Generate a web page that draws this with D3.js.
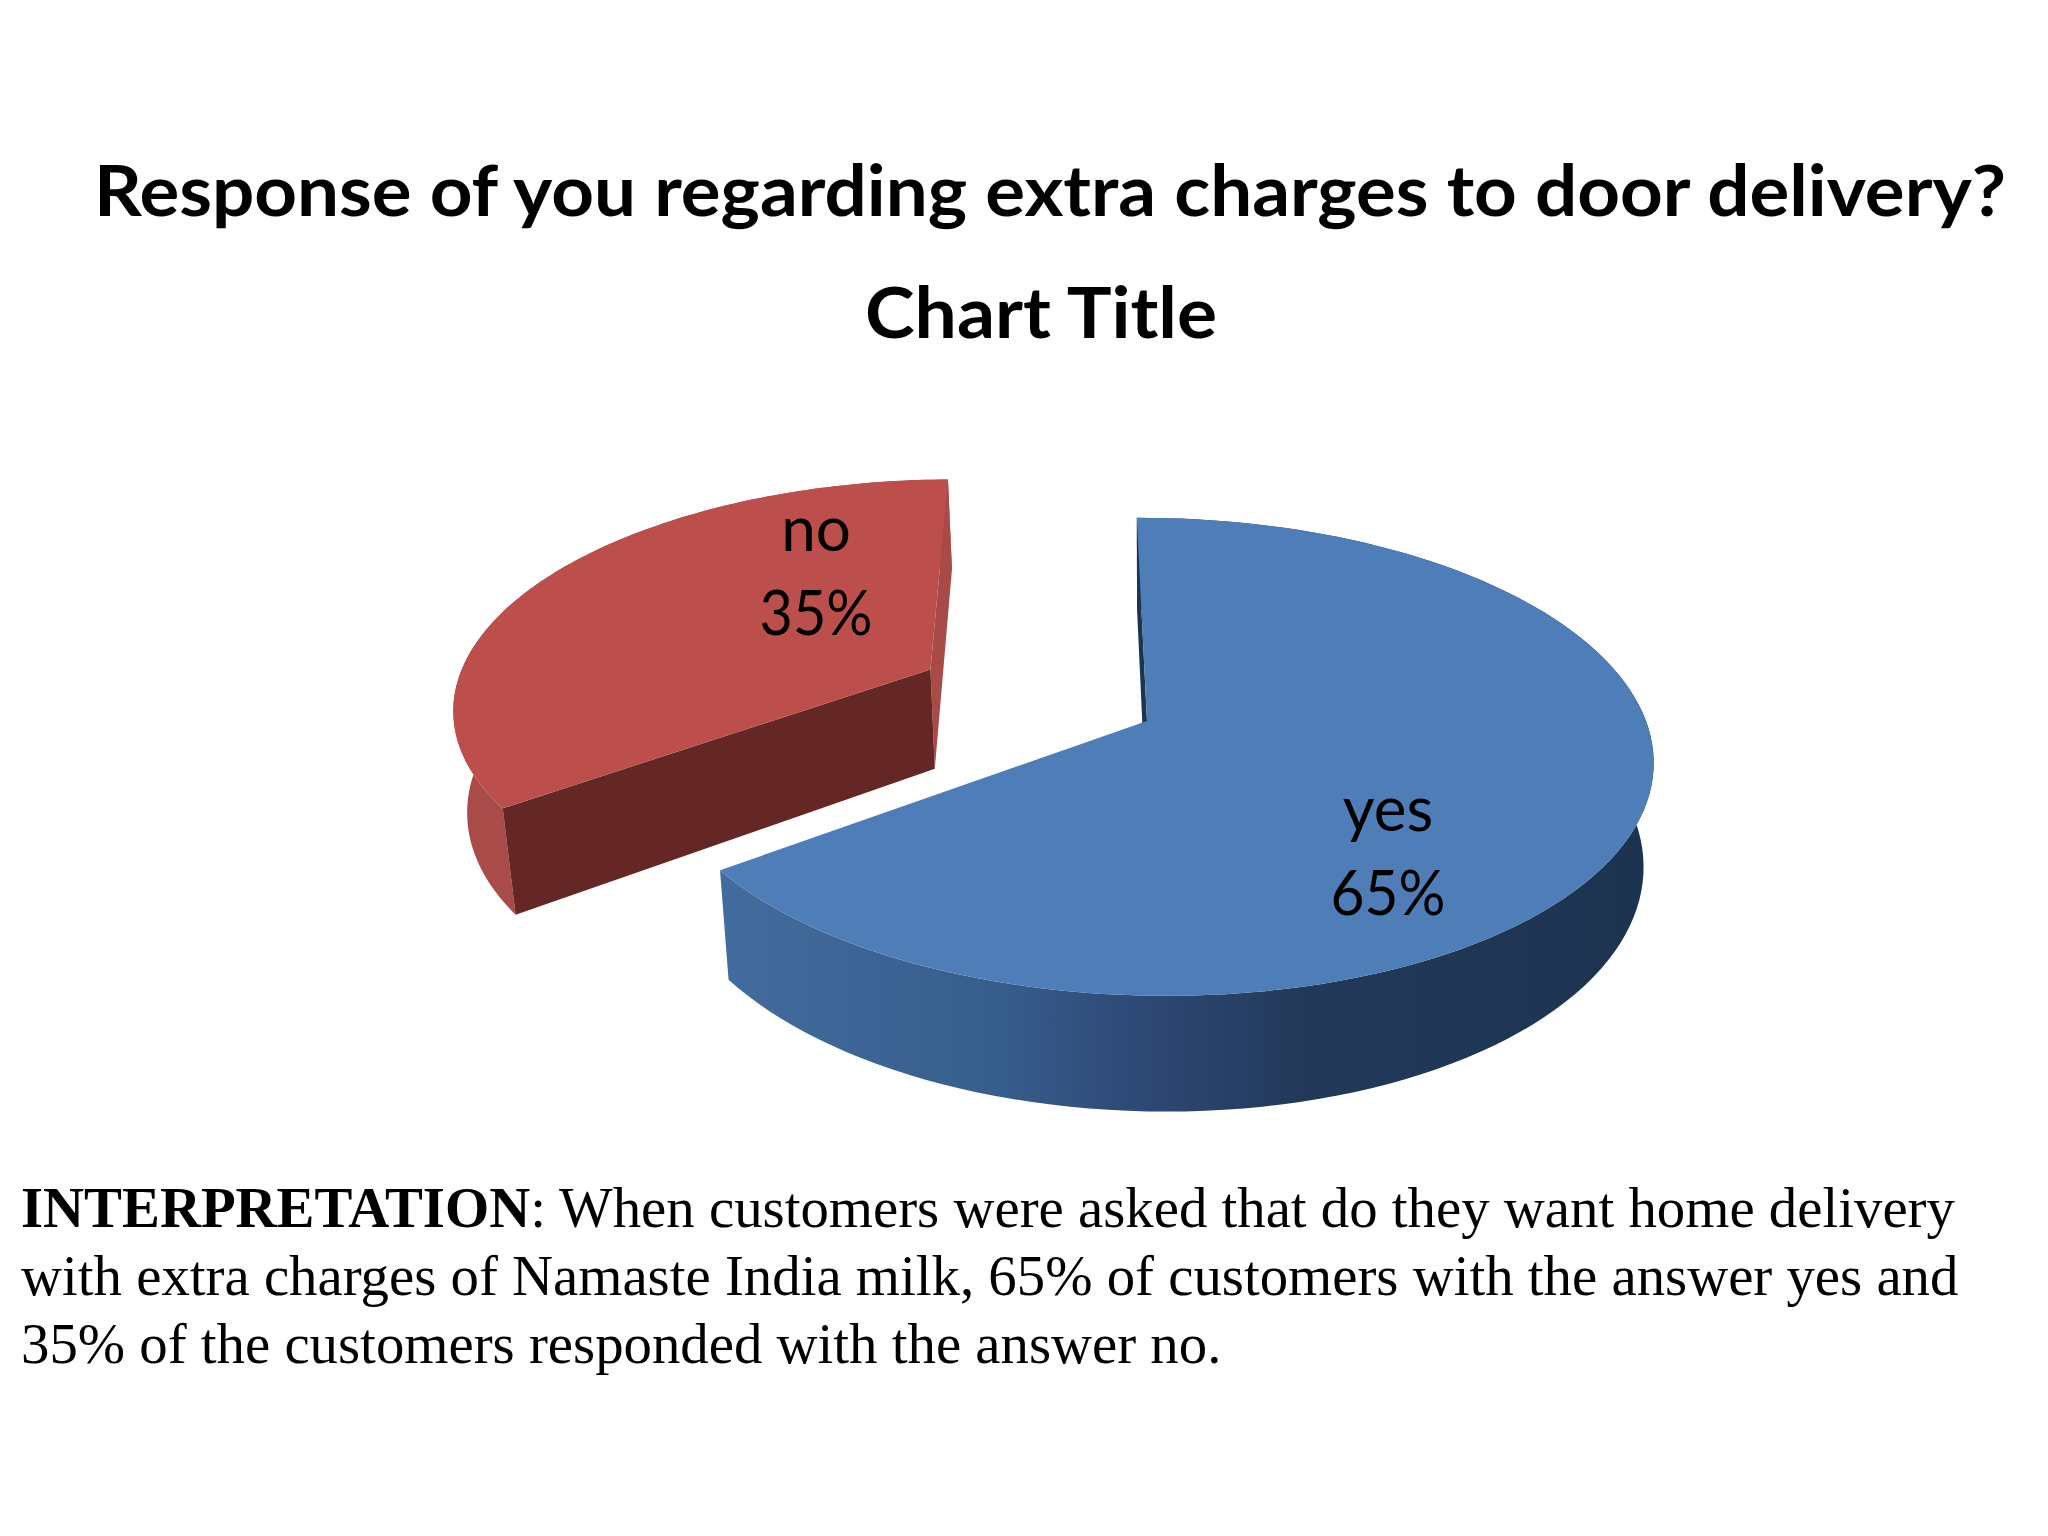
<!DOCTYPE html>
<html>
<head>
<meta charset="utf-8">
<script src="https://cdnjs.cloudflare.com/ajax/libs/d3/7.8.5/d3.min.js"></script>
<style>
  html, body { margin: 0; padding: 0; background: #ffffff; }
  svg { display: block; }
</style>
</head>
<body>
<svg id="chart"></svg>
<script>
// chart values
var categories = ["yes", "no"];
var percents = [65, 35];
var titleLines = ["Response of you regarding extra charges to door delivery?", "Chart Title"];
var bodyLead = "INTERPRETATION";
var bodyLines = [
  ": When customers were asked that do they want home delivery",
  "with extra charges of Namaste India milk, 65% of customers with the answer yes and",
  "35% of the customers responded with the answer no."
];

var width = 2048,
    height = 1536;

// the 3d look: flat disc seen in perspective, then pushed down for the wall
var cx = 1147, cy = 721,
    rx = 494, ry = 233.6,
    persp = 0.15, perspX = 0.01, shear = 0.05,
    depth = 102;

var explode = [0, 0.505];
var topColor = ["#4f7db8", "#bc4f4c"];
var faceColor = ["#1d3550", "#652726"];
var endColor = "#a84a48";
var labelPos = [[1388, 831], [816, 551]];
var labelWidth = [115, 113];

var svg = d3.select("#chart")
    .attr("width", width)
    .attr("height", height);

var defs = svg.append("defs");

// wall shading runs left to right on screen
var wallFill = [
  [[717, "#436c9e"], [1000, "#375d8c"], [1120, "#2f4b78"], [1300, "#22395a"], [1660, "#1c3350"]],
  [[440, "#a84b49"], [520, "#a84b49"]]
];
wallFill.forEach(function(stops, i){
    var x = d3.scaleLinear().domain([stops[0][0], stops[stops.length - 1][0]]).range([0, 100]);
    defs.append("linearGradient")
        .attr("id", "wall" + i)
        .attr("gradientUnits", "userSpaceOnUse")
        .attr("x1", stops[0][0]).attr("x2", stops[stops.length - 1][0])
        .attr("y1", 0).attr("y2", 0)
        .selectAll("stop")
        .data(stops)
        .enter().append("stop")
        .attr("offset", function(d){ return x(d[0]) + "%"; })
        .attr("stop-color", function(d){ return d[1]; });
});

function project(theta, r, off){
    var u = off[0] + r * Math.sin(theta),
        v = off[1] - r * Math.cos(theta),
        w = 1 - persp * v - perspX * u,
        dx = rx * u / w,
        dy = ry * v / w;
    return [cx + dx + shear * dy, cy + dy];
}

// same point on the bottom of the pie
function lower(p){
    return [p[0] - 0.02 * (p[0] - cx), p[1] + depth + 0.05 * (p[1] - cy)];
}

var line = d3.line();
var pie = d3.pie().sort(null);
var slices = pie(percents);

var g = svg.append("g");

slices.forEach(function(d, i){
    var mid = (d.startAngle + d.endAngle) / 2;
    var off = [explode[i] * Math.sin(mid), -explode[i] * Math.cos(mid)];
    var rim = d3.range(121).map(function(k){
        return project(d.startAngle + (d.endAngle - d.startAngle) * k / 120, 1, off);
    });
    var apex = project(0, 0, off);
    var first = rim[0], last = rim[rim.length - 1];

    // outer wall
    g.append("path")
        .attr("d", line(rim.concat(rim.map(lower).reverse())) + "Z")
        .attr("fill", "url(#wall" + i + ")");

    // the far cut face only shows on the red slice
    if (i == 1) {
        g.append("path")
            .attr("d", line([last, apex, lower(apex), lower(last)]) + "Z")
            .attr("fill", endColor);
    }

    // near cut face
    g.append("path")
        .attr("d", line([first, apex, lower(apex), lower(first)]) + "Z")
        .attr("fill", faceColor[i]);

    // top of the slice
    g.append("path")
        .attr("d", line([apex].concat(rim)) + "Z")
        .attr("fill", topColor[i]);
});

// data labels
var labels = svg.append("g")
    .attr("font-family", "Lato")
    .attr("font-size", 62)
    .attr("fill", "#000000")
    .attr("text-anchor", "middle");

categories.forEach(function(name, i){
    labels.append("text")
        .attr("x", labelPos[i][0])
        .attr("y", labelPos[i][1])
        .text(name);
    labels.append("text")
        .attr("x", labelPos[i][0])
        .attr("y", labelPos[i][1] + 84)
        .attr("textLength", labelWidth[i])
        .attr("lengthAdjust", "spacingAndGlyphs")
        .text(percents[i] + "%");
});

// titles
svg.append("text")
    .attr("x", 94)
    .attr("y", 216)
    .attr("font-family", "Lato")
    .attr("font-weight", 700)
    .attr("font-size", 70)
    .attr("textLength", 1912)
    .attr("lengthAdjust", "spacingAndGlyphs")
    .text(titleLines[0]);

svg.append("text")
    .attr("x", 865)
    .attr("y", 338)
    .attr("font-family", "Lato")
    .attr("font-weight", 700)
    .attr("font-size", 70)
    .attr("textLength", 352)
    .attr("lengthAdjust", "spacingAndGlyphs")
    .text(titleLines[1]);

// interpretation paragraph
var body = svg.append("g")
    .attr("font-family", "Liberation Serif")
    .attr("font-size", 56.8)
    .attr("fill", "#000000");

var firstLine = body.append("text").attr("x", 21).attr("y", 1227);
firstLine.append("tspan").attr("font-weight", 700).text(bodyLead);
firstLine.append("tspan").text(bodyLines[0]);

body.selectAll("text.rest")
    .data(bodyLines.slice(1))
    .enter().append("text")
    .attr("class", "rest")
    .attr("x", 21)
    .attr("y", function(d, i){ return 1295 + i * 68; })
    .text(function(d){ return d; });
</script>
</body>
</html>
